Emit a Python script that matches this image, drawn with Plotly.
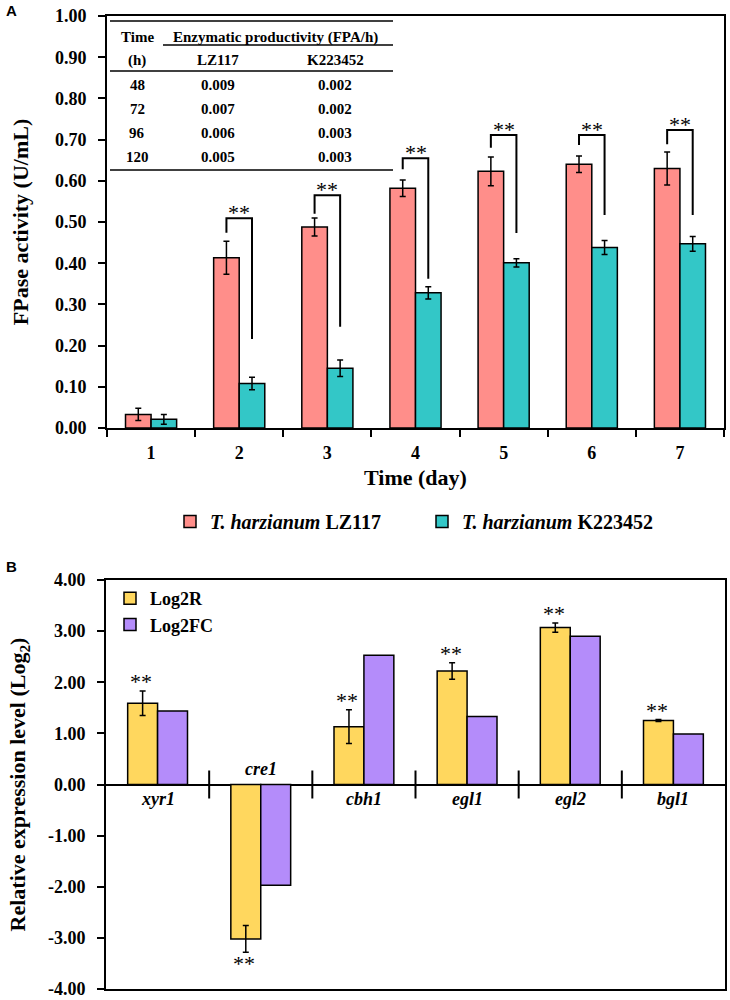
import plotly.graph_objects as go

# /// --- PANEL A: FPase activity --- \\\
days = [1, 2, 3, 4, 5, 6, 7]
lz117 = [0.033, 0.413, 0.488, 0.582, 0.623, 0.640, 0.630]
lz117_err = [0.015, 0.040, 0.022, 0.020, 0.035, 0.020, 0.040]
k223452 = [0.021, 0.108, 0.145, 0.328, 0.401, 0.438, 0.447]
k223452_err = [0.012, 0.015, 0.020, 0.015, 0.010, 0.017, 0.018]

# significance brackets: left foot, top, right foot
sig_days = [2, 3, 4, 5, 6, 7]
brk_left = [0.474, 0.520, 0.628, 0.680, 0.687, 0.689]
brk_top = [0.509, 0.565, 0.655, 0.711, 0.711, 0.723]
brk_right = [0.216, 0.246, 0.362, 0.473, 0.517, 0.517]

# productivity table
tbl_time = ["48", "72", "96", "120"]
tbl_lz117 = ["0.009", "0.007", "0.006", "0.005"]
tbl_k223452 = ["0.002", "0.002", "0.003", "0.003"]

# /// --- PANEL B: relative expression --- \\\
genes = ["xyr1", "cre1", "cbh1", "egl1", "egl2", "bgl1"]
log2r = [1.59, -3.02, 1.13, 2.22, 3.07, 1.25]
log2r_err = [0.24, 0.26, 0.33, 0.16, 0.09, 0.02]
log2fc = [1.44, -1.97, 2.53, 1.33, 2.90, 0.99]

W, H = 730, 1000
SERIF = "Liberation Serif"
PINK, CYAN = "#FF8E8A", "#33C7C7"
YELLOW, PURPLE = "#FFD75E", "#B48CFA"
BARGAP_A = 0.42


def px(x):
    return x / W


def py(y):
    return 1 - y / H


fig = go.Figure()

err_style = dict(type="data", color="black", thickness=1.5, width=3)
fig.add_trace(go.Bar(x=days, y=lz117, name="<i>T. harzianum</i> LZ117",
                     marker=dict(color=PINK, line=dict(color="black", width=1.5)),
                     error_y=dict(array=lz117_err, **err_style), xaxis="x", yaxis="y"))
fig.add_trace(go.Bar(x=days, y=k223452, name="<i>T. harzianum</i> K223452",
                     marker=dict(color=CYAN, line=dict(color="black", width=1.5)),
                     error_y=dict(array=k223452_err, **err_style), xaxis="x", yaxis="y"))

# brackets between the two strains
off = (1 - BARGAP_A) / 4
for d, yl, yt, yr in zip(sig_days, brk_left, brk_top, brk_right):
    fig.add_trace(go.Scatter(x=[d - off, d - off, d + off, d + off], y=[yl, yt, yt, yr],
                             mode="lines", line=dict(color="black", width=2),
                             showlegend=False, hoverinfo="skip", xaxis="x", yaxis="y"))
    fig.add_annotation(x=d, y=yt, xref="x", yref="y", text="**", showarrow=False,
                       yanchor="bottom", yshift=-9,
                       font=dict(family=SERIF, size=22, color="black", weight="normal"))

# panel B bars
gx = list(range(1, len(genes) + 1))
fig.add_trace(go.Bar(x=gx, y=log2r, name="Log2R", legend="legend2",
                     marker=dict(color=YELLOW, line=dict(color="black", width=1.5)),
                     error_y=dict(array=log2r_err, **err_style), xaxis="x2", yaxis="y2"))
fig.add_trace(go.Bar(x=gx, y=log2fc, name="Log2FC", legend="legend2",
                     marker=dict(color=PURPLE, line=dict(color="black", width=1.5)),
                     xaxis="x2", yaxis="y2"))

# category separators crossing the zero line
fig.add_trace(go.Scatter(x=[g + 0.5 for g in gx[:-1]], y=[0] * (len(gx) - 1), mode="markers",
                         marker=dict(symbol="line-ns", size=20, line=dict(color="black", width=2)),
                         showlegend=False, hoverinfo="skip", xaxis="x2", yaxis="y2"))

for g, name, v, e in zip(gx, genes, log2r, log2r_err):
    up = v >= 0
    fig.add_annotation(x=g, y=0, xref="x2", yref="y2", text=f"<i>{name}</i>", showarrow=False,
                       yanchor="top" if up else "bottom", yshift=-2 if up else 4,
                       font=dict(family=SERIF, size=18, color="black", weight="bold"))
    fig.add_annotation(x=g - 0.16, y=v + e if up else v - e, xref="x2", yref="y2", text="**",
                       showarrow=False, yanchor="bottom" if up else "top",
                       yshift=-5 if up else 3,
                       font=dict(family=SERIF, size=22, color="black", weight="normal"))

# productivity table inside panel A
tfont = dict(family=SERIF, size=15, color="black", weight="bold")
cells = [("Time", 137, 37), ("(h)", 137, 60),
         ("Enzymatic productivity (FPA/h)", 275, 37),
         ("LZ117", 218, 60), ("K223452", 335, 60)]
for i, (t, a, b) in enumerate(zip(tbl_time, tbl_lz117, tbl_k223452)):
    yy = 85 + 24 * i
    cells += [(t, 137, yy), (a, 218, yy), (b, 335, yy)]
for text, x, y in cells:
    fig.add_annotation(x=px(x), y=py(y), xref="paper", yref="paper", text=text,
                       xanchor="center", yanchor="middle", showarrow=False, font=tfont)
for x0, y0 in [(110, 21), (163, 45), (110, 71), (110, 170)]:
    fig.add_shape(type="line", xref="paper", yref="paper", x0=px(x0), x1=px(393),
                  y0=py(y0), y1=py(y0), line=dict(color="black", width=1.5))

# panel letters
for text, y in [("A", 10), ("B", 566)]:
    fig.add_annotation(x=px(11), y=py(y), xref="paper", yref="paper", text=text,
                       xanchor="center", yanchor="middle", showarrow=False,
                       font=dict(family="Liberation Sans", size=15, color="black",
                                 weight="bold"))

tickfont = dict(family=SERIF, size=18, color="black", weight="bold")
titlefont = dict(family=SERIF, size=22, color="black", weight="bold")
yt_b = [-4, -3, -2, -1, 0, 1, 2, 3, 4]

fig.update_layout(
    width=W, height=H,
    margin=dict(l=0, r=0, t=0, b=0, autoexpand=False),
    paper_bgcolor="white", plot_bgcolor="white",
    font=dict(family=SERIF, color="black"),
    barmode="group", bargap=BARGAP_A,
    showlegend=True,
    xaxis=dict(domain=[px(107), px(724)], range=[0.5, 7.5], tickvals=days,
               ticks="", tickfont=tickfont, ticklabelstandoff=7,
               showline=True, linecolor="black", linewidth=2, mirror=True,
               showgrid=False, zeroline=False, automargin=False,
               minor=dict(tickvals=[d + 0.5 for d in [0] + days], ticks="outside",
                          ticklen=7, tickwidth=2, tickcolor="black"),
               title=dict(text="Time (day)", font=titlefont, standoff=8),
               anchor="y"),
    yaxis=dict(domain=[py(428), py(16)], range=[0, 1], dtick=0.1, tickformat=".2f",
               ticks="outside", ticklen=7, tickwidth=2, tickcolor="black",
               tickfont=tickfont, ticklabelstandoff=8, ticklabeloverflow="allow",
               showline=True, linecolor="black", linewidth=2, mirror=True,
               showgrid=False, zeroline=False, automargin=False,
               title=dict(text="FPase activity (U/mL)", font=titlefont, standoff=20),
               anchor="x"),
    xaxis2=dict(domain=[px(106), px(725)], range=[0.5, 6.5], showticklabels=False,
                ticks="", showline=True, linecolor="black", linewidth=2, mirror=True,
                showgrid=False, zeroline=False, automargin=False, anchor="y2"),
    yaxis2=dict(domain=[py(989), py(580)], range=[-4, 4], tickvals=yt_b,
                ticktext=[f"{v:.2f}" for v in yt_b],
                ticks="outside", ticklen=7, tickwidth=2, tickcolor="black",
                tickfont=tickfont, ticklabelstandoff=8, ticklabeloverflow="allow",
                showline=True, linecolor="black", linewidth=2, mirror=True,
                showgrid=False, zeroline=True, zerolinecolor="black", zerolinewidth=2,
                automargin=False,
                title=dict(text="Relative expression level (Log<sub>2</sub>)", font=titlefont,
                           standoff=16),
                anchor="x2"),
    legend=dict(orientation="h", x=px(170), y=py(502), xanchor="left", yanchor="top",
                font=dict(family=SERIF, size=20, color="black", weight="bold"),
                entrywidth=207, entrywidthmode="pixels", bgcolor="rgba(0,0,0,0)"),
    legend2=dict(orientation="v", x=px(110), y=py(580), xanchor="left", yanchor="top",
                 font=dict(family=SERIF, size=18, color="black", weight="bold"),
                 tracegroupgap=0, itemwidth=30, bgcolor="rgba(0,0,0,0)"),
)

# page body has an 8px default margin; drop it so the figure sits at the window origin
fig.write_html("out.html", config={"displayModeBar": False},
               post_script="document.body.style.margin='0';")
